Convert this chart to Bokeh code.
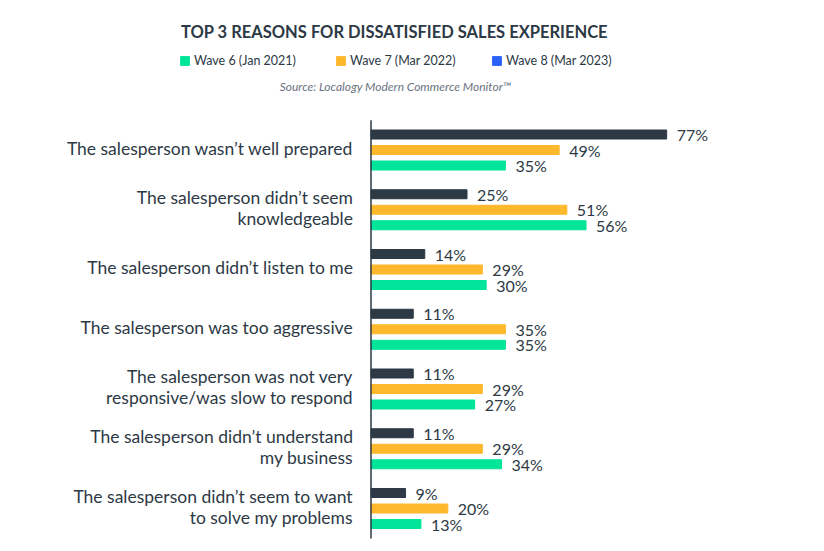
import numpy as np
from bokeh.plotting import figure
from bokeh.models import Range1d, Label, Legend, LegendItem, ColumnDataSource
from bokeh.core.properties import value
from bokeh.embed import file_html
from bokeh.resources import INLINE

categories = [
    "The salesperson wasn\u2019t well prepared",
    "The salesperson didn\u2019t seem\nknowledgeable",
    "The salesperson didn\u2019t listen to me",
    "The salesperson was too aggressive",
    "The salesperson was not very\nresponsive/was slow to respond",
    "The salesperson didn\u2019t understand\nmy business",
    "The salesperson didn\u2019t seem to want\nto solve my problems",
]
wave8 = [77, 25, 14, 11, 11, 11, 9]
wave7 = [49, 51, 29, 35, 29, 29, 20]
wave6 = [35, 56, 30, 35, 27, 34, 13]
series_names = ["Wave 6 (Jan 2021)", "Wave 7 (Mar 2022)", "Wave 8 (Mar 2023)"]

DARK = "#2d3945"
ORANGE = "#fdb82c"
GREEN = "#00e59a"
BLUE = "#2a64f6"
FONT = "Lato"

W, H = 824, 551
PXPCT = 3.84
X0 = 370.5
GROUP = 59.75
Y0 = 149.5

p = figure(width=W, height=H, output_backend="svg", toolbar_location=None,
           x_range=Range1d(-X0 / PXPCT, (W - X0) / PXPCT),
           y_range=Range1d((H - Y0) / GROUP, -Y0 / GROUP),
           min_border=0, outline_line_color=None)
p.axis.visible = False
p.grid.visible = False

n = len(categories)
idx = np.arange(n)
off = 15.5 / GROUP
bh = 9.0 / GROUP

s8 = ColumnDataSource(dict(y=idx - off, v=wave8, t=[f"{v}%" for v in wave8]))
s7 = ColumnDataSource(dict(y=idx * 1.0, v=wave7, t=[f"{v}%" for v in wave7]))
s6 = ColumnDataSource(dict(y=idx + off, v=wave6, t=[f"{v}%" for v in wave6]))

r8 = p.hbar(y="y", left=0, right="v", height=bh, source=s8, color=DARK)
r7 = p.hbar(y="y", left=0, right="v", height=bh, source=s7, color=ORANGE)
r6 = p.hbar(y="y", left=0, right="v", height=bh, source=s6, color=GREEN)
rb = p.hbar(y=[0], left=0, right=0, height=0, color=BLUE)

for s in (s8, s7, s6):
    p.text(x="v", y="y", text="t", source=s, x_offset=10,
           text_font=value(FONT), text_font_size="16px", text_color=DARK,
           text_baseline="middle", text_align="left")

# axis line
p.segment(x0=[0], y0=[-0.5], x1=[0], y1=[n - 0.5], line_color=DARK, line_width=1.5)

# category labels
cs = ColumnDataSource(dict(y=idx * 1.0, x=[0] * n, t=categories))
p.text(x="x", y="y", text="t", source=cs, x_offset=-18, y_offset=-2,
       text_font=value(FONT), text_font_size="17.5px", text_color=DARK,
       text_baseline="middle", text_align="right", text_line_height=1.0)

# title & source
p.add_layout(Label(x=394, y=H - 31, x_units="screen", y_units="screen",
                   text="TOP 3 REASONS FOR DISSATISFIED SALES EXPERIENCE",
                   text_font=FONT, text_font_size="16.5px", text_font_style="bold",
                   text_color=DARK, text_align="center", text_baseline="middle"))
p.add_layout(Label(x=395, y=H - 86, x_units="screen", y_units="screen",
                   text="Source: Localogy Modern Commerce Monitor\u2122",
                   text_font=FONT, text_font_size="12px", text_font_style="italic",
                   text_color="#6b7280", text_align="center", text_baseline="middle"))

legend = Legend(items=[LegendItem(label=series_names[0], renderers=[r6]),
                       LegendItem(label=series_names[1], renderers=[r7]),
                       LegendItem(label=series_names[2], renderers=[rb])],
                orientation="horizontal", location=(179, H - 57 - 11),
                glyph_width=11, glyph_height=11, label_height=11,
                label_width=141, label_standoff=4, spacing=0, padding=0, margin=0,
                border_line_color=None, background_fill_alpha=0,
                label_text_font=FONT, label_text_font_size="12.5px",
                label_text_color=DARK, label_text_baseline="middle")
p.add_layout(legend)

open("out.html", "w").write(file_html(p, INLINE))
